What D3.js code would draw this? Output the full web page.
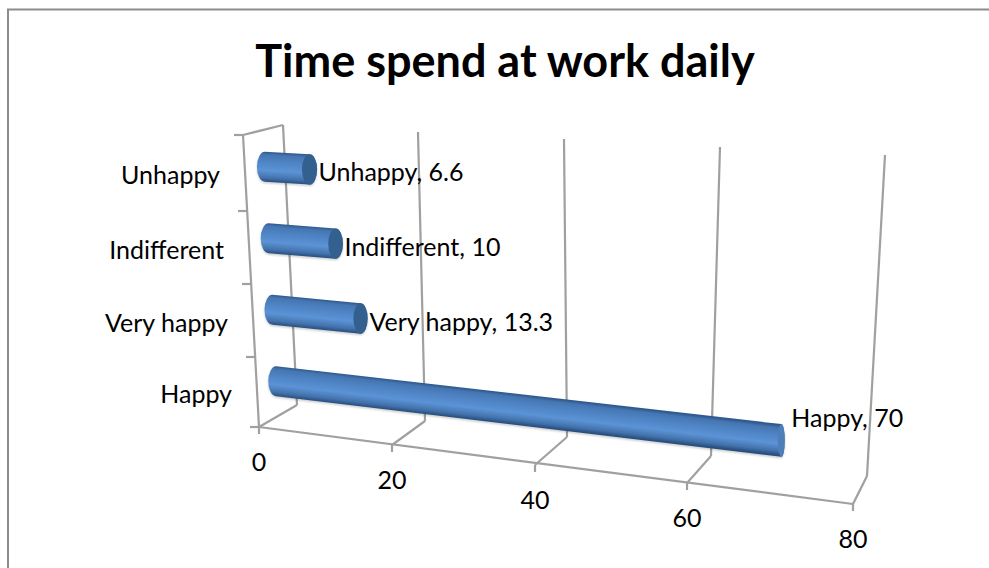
<!DOCTYPE html>
<html><head><meta charset="utf-8">
<script src="https://cdn.jsdelivr.net/npm/d3@7"></script>
<style>html,body{margin:0;padding:0;background:#fff}svg{display:block}text{font-family:Lato,"Open Sans",sans-serif;fill:#000}</style>
</head><body><svg id="c" width="989" height="568"></svg>
<script>
const title = "Time spend at work daily";
const categories = ["Happy","Very happy","Indifferent","Unhappy"];
const values = [70,13.3,10,6.6];
const xTicks = [0,20,40,60,80];

const svg = d3.select("#c");
const W=989,H=568;
const s=(r)=>d3.scaleLinear().domain(xTicks).range(r);
// perspective floor/back-wall
const fx=s([259,392,535,687,853]), fy=s([427,445,465,483,504]);
const bx=s([297,425,567,711,867]), by=s([405,421,437,456,476]);
const tx=s([283,418,564,720,885]), ty=s([125,132,139,147,155]);
const mbx=s([278,408.5,551,699,860]), mby=s([417,434,452,470.5,491]);
const mtx=s([263,399,550,710,878]), mty=s([131,138,145.5,154,162]);
const band=d3.scaleBand().domain(categories).range([0,1]);
const edgeH=d3.scaleLinear().domain([0,.25,.5,.75,1]);
const edgeX=edgeH.copy().range([259,255,251,247,243]);
const edgeY=edgeH.copy().range([427,357,284,211,135]);
const capRx=d3.scaleLinear().domain([260,780]).range([8,3.5]);
const barR=d3.scaleLinear().domain([0,80]).range([15,16.5]);
const P=(v,h)=>[mbx(v)+(mtx(v)-mbx(v))*h, mby(v)+(mty(v)-mby(v))*h];

// frame
svg.append("path").attr("d",`M8,${H}V9.5H${W}`).attr("fill","none").attr("stroke","#8c8c8c").attr("stroke-width",2);

svg.append("text").attr("x",505).attr("y",77).attr("text-anchor","middle")
  .attr("font-size",45).attr("font-weight",700).text(title);

// grid
const g=svg.append("g").attr("fill","none").attr("stroke","#a0a0a0").attr("stroke-width",2.2);
const ln=(a,b,c,d)=>g.append("line").attr("x1",a).attr("y1",b).attr("x2",c).attr("y2",d);
xTicks.forEach(v=>{
  ln(bx(v),by(v),tx(v),ty(v));
  ln(fx(v),fy(v),bx(v),by(v));
  ln(fx(v),fy(v),fx(v),fy(v)+7);
});
ln(fx(0),fy(0),fx(80),fy(80));
ln(edgeX(0),edgeY(0),edgeX(1),edgeY(1));
ln(edgeX(1),edgeY(1),tx(0),ty(0));
edgeH.domain().forEach(h=>ln(edgeX(h),edgeY(h),edgeX(h)-9,edgeY(h)));

const defs=svg.append("defs");
const blur=defs.append("filter").attr("id","sh").attr("x","-10%").attr("y","-30%").attr("width","120%").attr("height","160%");
blur.append("feGaussianBlur").attr("stdDeviation",1.2);

// bars
categories.forEach((c,i)=>{
  const h=band(c)+band.bandwidth()/2, v=values[i];
  const [x0,y0]=P(0,h), [x1,y1]=P(v,h);
  const r0=barR(0), r1=barR(v), rx0=capRx(x0), rx1=capRx(x1);
  const id="grad"+i;
  const lg=defs.append("linearGradient").attr("id",id).attr("gradientUnits","userSpaceOnUse");
  [[0,"#2f5a8e"],[.1,"#4676b2"],[.35,"#4f85c6"],[.62,"#5b93d6"],[.86,"#4473ad"],[1,"#28507f"]]
    .forEach(([o,k])=>lg.append("stop").attr("offset",o).attr("stop-color",k));
  const d=`M${x0},${y0-r0}A${rx0},${r0} 0 0 0 ${x0},${y0+r0}L${x1},${y1+r1}A${rx1},${r1} 0 0 0 ${x1},${y1-r1}Z`;
  svg.append("path").attr("d",d).attr("fill","#000").attr("opacity",.2).attr("transform","translate(0,1.5)").attr("filter","url(#sh)");
  const ang=Math.atan2(y1-y0,x1-x0)*180/Math.PI;
  lg.attr("x1",x0).attr("x2",x0).attr("y1",y0-r0).attr("y2",y0+r0)
    .attr("gradientTransform",`translate(${x0},${y0}) skewY(${ang}) translate(${-x0},${-y0})`);
  svg.append("path").attr("d",d).attr("fill",`url(#${id})`);
  svg.append("ellipse").attr("cx",x1).attr("cy",y1).attr("rx",rx1).attr("ry",r1).attr("fill",v>40?"#4f7fb8":"#34608f");
});

// category labels
const fs=25;
categories.forEach(c=>{
  const h=band(c)+band.bandwidth()/2;
  svg.append("text").attr("x",edgeX(h)-25).attr("y",edgeY(h)+11).attr("text-anchor","end").attr("font-size",fs).text(c);
});
// tick labels
xTicks.forEach(v=>svg.append("text").attr("x",fx(v)).attr("y",fy(v)+44).attr("text-anchor","middle").attr("font-size",fs).text(v));
// data labels
categories.forEach((c,i)=>{
  const h=band(c)+band.bandwidth()/2, [x,y]=P(values[i],h), top=values[i]>40;
  svg.append("text").attr("x",x+(top?10:9)).attr("y",y+(top?-13:12)).attr("font-size",fs).text(`${c}, ${values[i]}`);
});
</script></body></html>
